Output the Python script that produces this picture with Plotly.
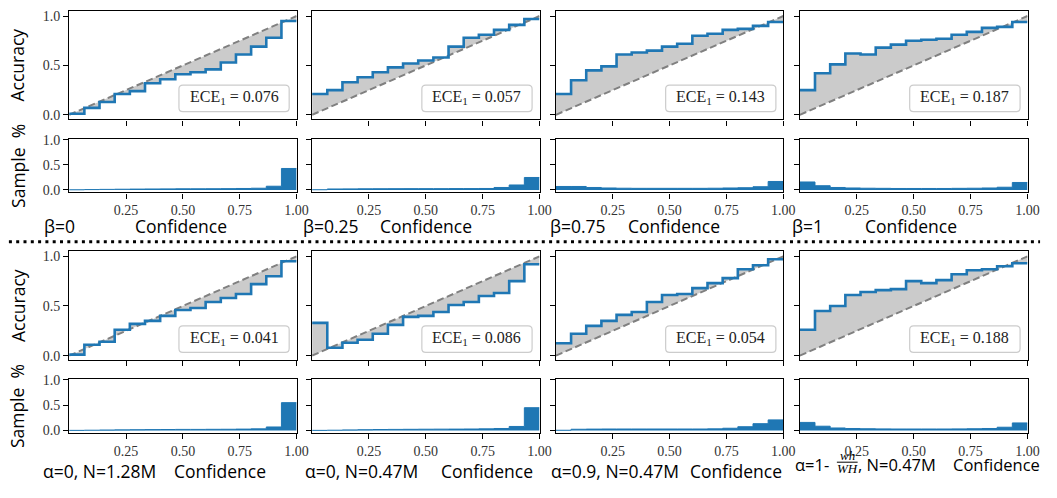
import plotly.graph_objects as go

W, H = 1057, 498

# ---- data (15 equal-width confidence bins) ----
bin_edges = [i / 15 for i in range(16)]

acc_beta0 = [0.01, 0.07, 0.13, 0.21, 0.24, 0.32, 0.36, 0.41, 0.43, 0.46, 0.53, 0.61, 0.69, 0.78, 0.95]
acc_beta025 = [0.21, 0.25, 0.33, 0.38, 0.43, 0.48, 0.52, 0.55, 0.58, 0.69, 0.78, 0.81, 0.86, 0.91, 0.97]
acc_beta075 = [0.21, 0.35, 0.45, 0.49, 0.61, 0.63, 0.65, 0.69, 0.72, 0.80, 0.82, 0.86, 0.87, 0.90, 0.94]
acc_beta1 = [0.25, 0.42, 0.51, 0.62, 0.61, 0.68, 0.71, 0.75, 0.76, 0.77, 0.81, 0.84, 0.88, 0.89, 0.94]
acc_a0_128m = [0.01, 0.11, 0.14, 0.26, 0.32, 0.35, 0.40, 0.46, 0.48, 0.54, 0.58, 0.62, 0.72, 0.80, 0.95]
acc_a0_047m = [0.33, 0.08, 0.13, 0.16, 0.22, 0.31, 0.39, 0.40, 0.44, 0.51, 0.54, 0.60, 0.63, 0.75, 0.92]
acc_a09_047m = [0.125, 0.22, 0.30, 0.35, 0.41, 0.44, 0.54, 0.61, 0.62, 0.68, 0.73, 0.78, 0.87, 0.91, 0.97]
acc_awh_047m = [0.26, 0.45, 0.50, 0.61, 0.64, 0.66, 0.67, 0.75, 0.73, 0.76, 0.82, 0.86, 0.87, 0.90, 0.93]

hist_beta0 = [0.004, 0.008, 0.012, 0.015, 0.018, 0.02, 0.022, 0.024, 0.024, 0.025, 0.027, 0.03, 0.035, 0.075, 0.43]
hist_beta025 = [0.005, 0.02, 0.022, 0.024, 0.025, 0.026, 0.027, 0.027, 0.027, 0.028, 0.028, 0.03, 0.05, 0.1, 0.25]
hist_beta075 = [0.07, 0.07, 0.05, 0.04, 0.035, 0.033, 0.033, 0.033, 0.033, 0.033, 0.035, 0.04, 0.045, 0.065, 0.17]
hist_beta1 = [0.16, 0.085, 0.05, 0.04, 0.035, 0.033, 0.03, 0.03, 0.03, 0.03, 0.033, 0.035, 0.04, 0.055, 0.15]
hist_a0_128m = [0.003, 0.006, 0.01, 0.013, 0.016, 0.018, 0.02, 0.022, 0.022, 0.024, 0.025, 0.028, 0.033, 0.07, 0.55]
hist_a0_047m = [0.003, 0.006, 0.012, 0.016, 0.02, 0.022, 0.024, 0.026, 0.027, 0.028, 0.03, 0.033, 0.04, 0.08, 0.45]
hist_a09_047m = [0.005, 0.025, 0.028, 0.03, 0.03, 0.03, 0.03, 0.03, 0.03, 0.03, 0.033, 0.045, 0.075, 0.135, 0.21]
hist_awh_047m = [0.16, 0.085, 0.05, 0.04, 0.035, 0.032, 0.03, 0.03, 0.03, 0.03, 0.032, 0.035, 0.04, 0.065, 0.15]

ece_values = ["0.076", "0.057", "0.143", "0.187", "0.041", "0.086", "0.054", "0.188"]
setting_labels = ["β=0", "β=0.25", "β=0.75", "β=1",
                  "α=0, N=1.28M", "α=0, N=0.47M", "α=0.9, N=0.47M", "α=1-"]
x_tick_vals = [0.25, 0.5, 0.75, 1.0]
x_tick_text = ["0.25", "0.50", "0.75", "1.00"]
y_tick_vals = [0.0, 0.5, 1.0]
y_tick_text = ["0.0", "0.5", "1.0"]

acc_series = [acc_beta0, acc_beta025, acc_beta075, acc_beta1,
              acc_a0_128m, acc_a0_047m, acc_a09_047m, acc_awh_047m]
hist_series = [hist_beta0, hist_beta025, hist_beta075, hist_beta1,
               hist_a0_128m, hist_a0_047m, hist_a09_047m, hist_awh_047m]

# ---- layout geometry (pixels) ----
col_px = [(70, 300), (315.7, 545.7), (562.3, 792.3), (809, 1039.3)]
row_px = [  # (acc top, acc bottom, hist top, hist bottom)
    (5, 116, 135.7, 190.7),
    (250.7, 362.3, 381, 436.7),
]
ACC_RANGE = [-0.047, 1.052]
HIST_RANGE = [-0.05, 1.025]

BLUE = "#1f77b4"
TICK_FONT = dict(family="Liberation Serif", size=14, color="#333333")
LABEL_FONT = dict(family="Open Sans", size=17.5, color="black")
LABEL_FONT_SMALL = dict(family="Open Sans", size=16.5, color="black")


def px_x(p):
    return p / W


def px_y(p):
    return 1 - p / H


fig = go.Figure()
layout = dict(
    width=W, height=H, autosize=False,
    margin=dict(l=0, r=0, t=0, b=0),
    paper_bgcolor="white", plot_bgcolor="white",
    showlegend=False,
)
shapes = []
annotations = []


def axis_style(**kw):
    d = dict(showline=True, linecolor="black", linewidth=1.2, mirror=True,
             ticks="outside", ticklen=5, tickwidth=1.2, tickcolor="black",
             showgrid=False, zeroline=False, tickfont=TICK_FONT, fixedrange=True)
    d.update(kw)
    return d


for p in range(8):
    r, c = divmod(p, 4)
    x0, x1 = col_px[c]
    at, ab, ht, hb = row_px[r]
    ia, ih = 2 * p + 1, 2 * p + 2
    xa, ya = f"x{ia}", f"y{ia}"
    xh, yh = f"x{ih}", f"y{ih}"
    acc = acc_series[p]
    hist = hist_series[p]

    sx = bin_edges
    sy_acc = acc + [acc[-1]]
    sy_hist = hist + [hist[-1]]

    # gray gap polygon: step curve forward, diagonal back
    gx, gy = [], []
    for i in range(15):
        gx += [bin_edges[i], bin_edges[i + 1]]
        gy += [acc[i], acc[i]]
    gx += [1.0, 0.0]
    gy += [1.0, 0.0]
    fig.add_trace(go.Scatter(x=gx, y=gy, mode="lines", fill="toself",
                             fillcolor="#cbcbcb", line=dict(width=0),
                             xaxis=xa, yaxis=ya, hoverinfo="skip"))
    fig.add_trace(go.Scatter(x=[0, 1], y=[0, 1], mode="lines",
                             line=dict(color="#808080", width=2, dash="7px,3.5px"),
                             xaxis=xa, yaxis=ya, hoverinfo="skip"))
    fig.add_trace(go.Scatter(x=sx, y=sy_acc, mode="lines", line_shape="hv",
                             line=dict(color=BLUE, width=2.6),
                             xaxis=xa, yaxis=ya))
    fig.add_trace(go.Scatter(x=sx, y=sy_hist, mode="lines", line_shape="hv",
                             fill="tozeroy", fillcolor=BLUE,
                             line=dict(color=BLUE, width=1),
                             xaxis=xh, yaxis=yh))

    first = c == 0
    layout[f"xaxis{ia}"] = axis_style(domain=[px_x(x0), px_x(x1)], range=[0, 1],
                                      tickvals=x_tick_vals, showticklabels=False,
                                      anchor=ya)
    layout[f"yaxis{ia}"] = axis_style(domain=[px_y(ab), px_y(at)], range=ACC_RANGE,
                                      tickvals=y_tick_vals, ticktext=y_tick_text,
                                      showticklabels=first, anchor=xa)
    layout[f"xaxis{ih}"] = axis_style(domain=[px_x(x0), px_x(x1)], range=[0, 1],
                                      tickvals=x_tick_vals, ticktext=x_tick_text,
                                      anchor=yh)
    layout[f"yaxis{ih}"] = axis_style(domain=[px_y(hb), px_y(ht)], range=HIST_RANGE,
                                      tickvals=y_tick_vals, ticktext=y_tick_text,
                                      showticklabels=first, anchor=xh)

    # ECE legend box (rounded rectangle) in axis data units
    bx0, bx1 = 1 - 119 / 230, 1 - 7.5 / 230
    by0, by1 = 0.032, 0.300
    rx, ry = 4 / 230, 4 * (ACC_RANGE[1] - ACC_RANGE[0]) / (ab - at)
    path = (f"M {bx0 + rx},{by0} L {bx1 - rx},{by0} Q {bx1},{by0} {bx1},{by0 + ry} "
            f"L {bx1},{by1 - ry} Q {bx1},{by1} {bx1 - rx},{by1} "
            f"L {bx0 + rx},{by1} Q {bx0},{by1} {bx0},{by1 - ry} "
            f"L {bx0},{by0 + ry} Q {bx0},{by0} {bx0 + rx},{by0} Z")
    shapes.append(dict(type="path", path=path, xref=xa, yref=ya,
                       line=dict(color="#cccccc", width=1.2),
                       fillcolor="rgba(255,255,255,0.85)", layer="above"))
    annotations.append(dict(x=(bx0 + bx1) / 2, y=(by0 + by1) / 2 + 0.005, xref=xa, yref=ya,
                            text=f"ECE<sub>1</sub> = {ece_values[p]}", showarrow=False,
                            font=dict(family="Liberation Serif", size=16, color="#222222"),
                            xanchor="center", yanchor="middle"))

# y-axis labels
for r in range(2):
    at, ab, ht, hb = row_px[r]
    annotations.append(dict(x=px_x(17.5), y=px_y((at + ab) / 2), xref="paper", yref="paper",
                            text="Accuracy", textangle=-90, showarrow=False,
                            font=LABEL_FONT, xanchor="center", yanchor="middle"))
    annotations.append(dict(x=px_x(17.5), y=px_y((ht + hb) / 2), xref="paper", yref="paper",
                            text="Sample\u00a0 %", textangle=-90, showarrow=False,
                            font=LABEL_FONT, xanchor="center", yanchor="middle"))

# bottom captions
label_left_px = [43, 305, 555, 800, 42, 307, 556, 803]
label_y_px = [225, 225, 225, 225, 475, 475, 475, 469]
conf_center_px = [183, 431, 681.7, 921.7, 223, 492.5, 744, 1008]
for p in range(8):
    f = LABEL_FONT_SMALL if p == 7 else LABEL_FONT
    annotations.append(dict(x=px_x(label_left_px[p]), y=px_y(label_y_px[p]),
                            xref="paper", yref="paper", text=setting_labels[p],
                            showarrow=False, font=f, borderpad=0,
                            xanchor="left", yanchor="middle"))
    annotations.append(dict(x=px_x(conf_center_px[p]), y=px_y(label_y_px[p]),
                            xref="paper", yref="paper", text="Confidence",
                            showarrow=False, font=f, borderpad=0,
                            xanchor="center", yanchor="middle"))

# fraction wh / WH for the last caption
frac_font = dict(family="Liberation Serif", size=13, color="black")
annotations.append(dict(x=px_x(857), y=px_y(460), xref="paper", yref="paper",
                        text="<i>wh</i>", showarrow=False, font=frac_font, borderpad=0,
                        xanchor="center", yanchor="middle"))
annotations.append(dict(x=px_x(857), y=px_y(472.5), xref="paper", yref="paper",
                        text="<i>WH</i>", showarrow=False, font=frac_font, borderpad=0,
                        xanchor="center", yanchor="middle"))
shapes.append(dict(type="line", xref="paper", yref="paper",
                   x0=px_x(846.5), x1=px_x(867.5), y0=px_y(466.5), y1=px_y(466.5),
                   line=dict(color="black", width=1)))
annotations.append(dict(x=px_x(867), y=px_y(469), xref="paper", yref="paper",
                        text=", N=0.47M", showarrow=False, font=LABEL_FONT_SMALL, borderpad=0,
                        xanchor="left", yanchor="middle"))

# dotted separator
shapes.append(dict(type="line", xref="paper", yref="paper",
                   x0=px_x(9), x1=px_x(1052), y0=px_y(241), y1=px_y(241),
                   line=dict(color="black", width=3, dash="3px,4.3px")))

layout["shapes"] = shapes
layout["annotations"] = annotations
fig.update_layout(**layout)
fig.write_html("out.html", config={"displayModeBar": False},
               post_script="document.body.style.margin='0px';")
